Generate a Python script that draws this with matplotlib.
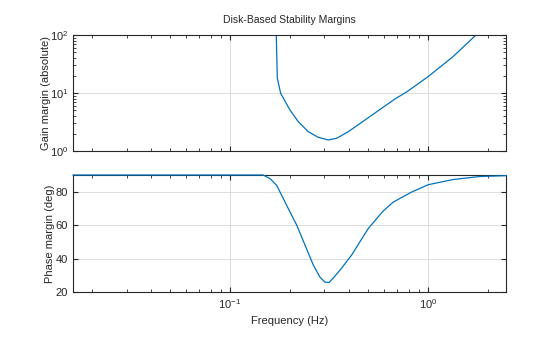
import numpy as np
import matplotlib.pyplot as plt

plt.rcParams['font.family'] = ['Liberation Sans', 'DejaVu Sans']

# Gain margin (absolute) vs frequency (Hz)
gm_freq = [0.1685, 0.1734, 0.1803, 0.2009, 0.2213, 0.2486, 0.2792, 0.3136,
           0.3459, 0.396, 0.4805, 0.5836, 0.6816, 0.783, 1.0, 1.337, 1.748, 2.06, 2.48]
gm_val = [1000, 17.9, 9.88, 5.09, 3.20, 2.15, 1.72, 1.55,
          1.656, 2.15, 3.42, 5.45, 7.9, 10.5, 19.1, 42.2, 100, 148, 230]

# Phase margin (deg) vs frequency (Hz)
pm_freq = [0.0161, 0.147, 0.159, 0.1721, 0.1825, 0.197, 0.2173, 0.2392, 0.2634,
           0.2847, 0.302, 0.3162, 0.3323, 0.3665, 0.4119, 0.4995, 0.5944, 0.668,
           0.827, 1.0035, 1.342, 1.83, 2.48]
pm_val = [90, 90, 87.9, 83.8, 77.8, 69.9, 60.0, 48.1, 36.2,
          28.9, 25.9, 25.7, 28.3, 34.3, 42.2, 58.0, 68.5, 73.8,
          79.8, 84.2, 87.3, 89.1, 89.6]

line_color = '#0072BD'
xlim = (0.0161, 2.48)

fig = plt.figure(figsize=(5.6, 3.37), dpi=100)
ax1 = fig.add_axes([0.1304, 0.552, 0.7732, 0.344])
ax2 = fig.add_axes([0.1304, 0.1335, 0.7732, 0.3472])

for ax in (ax1, ax2):
    ax.set_xscale('log')
    ax.set_xlim(*xlim)
    ax.grid(True, which='major', color='#dcdcdc', linewidth=0.7)
    ax.set_axisbelow(True)
    ax.tick_params(which='both', direction='in', top=True, right=True,
                   labelsize=8, colors='#262626')
    ax.tick_params(which='major', length=3.5)
    ax.tick_params(which='minor', length=2)
    for s in ax.spines.values():
        s.set_linewidth(0.8)
        s.set_color('#262626')

ax1.plot(gm_freq, gm_val, color=line_color, linewidth=0.9)
ax1.set_yscale('log')
ax1.set_ylim(1, 100)
ax1.tick_params(labelbottom=False)
ax1.set_ylabel('Gain margin (absolute)', fontsize=8, color='#262626')
ax1.yaxis.set_label_coords(-0.052, 0.5)
ax1.set_title('Disk-Based Stability Margins', fontsize=7.5, color='#262626', pad=9)

ax2.plot(pm_freq, pm_val, color=line_color, linewidth=0.9, clip_on=False, zorder=3)
ax2.set_ylim(20, 90)
ax2.set_yticks([20, 40, 60, 80])
ax2.set_ylabel('Phase margin (deg)', fontsize=8, color='#262626')
ax2.yaxis.set_label_coords(-0.042, 0.5)
ax2.set_xlabel('Frequency (Hz)', fontsize=8, color='#262626')

fig.savefig('out.png', dpi=100)
